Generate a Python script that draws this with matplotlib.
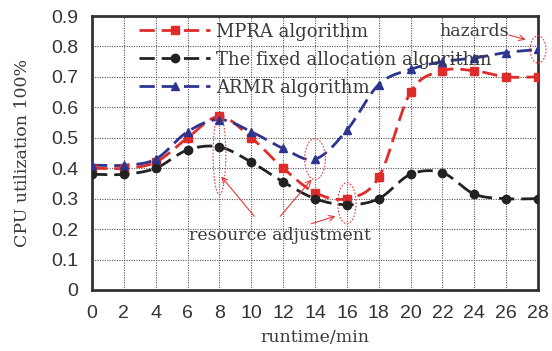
import numpy as np
import matplotlib
matplotlib.use("Agg")
import matplotlib.pyplot as plt
from matplotlib.patches import Ellipse

runtime = [0, 2, 4, 6, 8, 10, 12, 14, 16, 18, 20, 22, 24, 26, 28]
mpra = [0.40, 0.40, 0.42, 0.50, 0.57, 0.50, 0.40, 0.32, 0.30, 0.37, 0.65, 0.72, 0.72, 0.70, 0.70]
fixed = [0.38, 0.38, 0.40, 0.46, 0.47, 0.42, 0.355, 0.30, 0.28, 0.30, 0.38, 0.385, 0.315, 0.30, 0.30]
armr = [0.41, 0.41, 0.43, 0.52, 0.56, 0.52, 0.465, 0.43, 0.525, 0.675, 0.725, 0.75, 0.762, 0.78, 0.79]
labels = ["MPRA algorithm", "The fixed allocation algorithm", "ARMR algorithm"]
yticks = [0, 0.1, 0.2, 0.3, 0.4, 0.5, 0.6, 0.7, 0.8, 0.9]
ytick_labels = ["0", "0.1", "0.2", "0.3", "0.4", "0.5", "0.6", "0.7", "0.8", "0.9"]


def smooth(x, y, n=20):
    x = np.asarray(x, float)
    y = np.asarray(y, float)
    px = np.concatenate([[2 * x[0] - x[1]], x, [2 * x[-1] - x[-2]]])
    py = np.concatenate([[2 * y[0] - y[1]], y, [2 * y[-1] - y[-2]]])
    xs, ys = [], []
    t = np.linspace(0, 1, n, endpoint=False)
    for i in range(1, len(px) - 2):
        for arr, out in ((px, xs), (py, ys)):
            p0, p1, p2, p3 = arr[i - 1], arr[i], arr[i + 1], arr[i + 2]
            v = 0.5 * ((2 * p1) + (-p0 + p2) * t + (2 * p0 - 5 * p1 + 4 * p2 - p3) * t ** 2
                       + (-p0 + 3 * p1 - 3 * p2 + p3) * t ** 3)
            out.extend(v)
    xs.append(x[-1])
    ys.append(y[-1])
    return np.array(xs), np.array(ys)


serif = "DejaVu Serif"
txtcol = "#3a3a3a"
fig = plt.figure(figsize=(5.52, 3.51), dpi=100)
ax = fig.add_axes([0.1667, 0.1738, 0.808, 0.7806])

red = "#e02b2b"
black = "#222222"
blue = "#2c3590"
series = [(mpra, red, "s"), (fixed, black, "o"), (armr, blue, "^")]
for (vals, col, mk), lab in zip(series, labels):
    sx, sy = smooth(runtime, vals)
    ax.plot(sx, sy, color=col, lw=2.0, dashes=(5.5, 2.5), zorder=3)
    ax.plot(runtime, vals, ls="none", marker=mk, color=col, ms=6, zorder=4)
    ax.plot([], [], color=col, lw=2.0, dashes=(5.5, 2.5), marker=mk, ms=6, label=lab)

ax.set_xlim(0, 28)
ax.set_ylim(0, 0.9)
ax.set_xticks(runtime)
ax.set_yticks(yticks)
ax.set_yticklabels(ytick_labels)
ax.tick_params(length=0, labelsize=14, colors="#333333")
ax.tick_params(axis="x", pad=11)
ax.tick_params(axis="y", pad=10)
for lab in ax.get_xticklabels() + ax.get_yticklabels():
    lab.set_family("Liberation Sans")
ax.grid(True, color="#555555", ls=(0, (1, 1.2)), lw=0.8)
ax.set_axisbelow(True)
for s in ax.spines.values():
    s.set_linewidth(2)
    s.set_color("#333333")

ax.set_xlabel("runtime/min", family=serif, fontsize=12.5, color=txtcol, labelpad=5)
ax.set_ylabel("CPU utilization 100%", family=serif, fontsize=12.5, color=txtcol, labelpad=14)

leg = ax.legend(loc="upper left", bbox_to_anchor=(0.07, 1.035), frameon=False,
                handlelength=3.9, numpoints=1, labelspacing=0.55, handletextpad=0.35,
                prop={"family": serif, "size": 13})
for t in leg.get_texts():
    t.set_color(txtcol)

ann_col = "#e03a3a"
for (cx, cy, w, h) in [(8, 0.445, 0.8, 0.265), (14, 0.43, 1.3, 0.135), (16, 0.285, 1.15, 0.135), (28, 0.79, 1.0, 0.09)]:
    ax.add_patch(Ellipse((cx, cy), w, h, fill=False, ec=ann_col, lw=0.8, ls=(0, (1.5, 1.5)), zorder=5, clip_on=False))

ax.text(6.1, 0.165, "resource adjustment", family=serif, fontsize=12.5, color=txtcol, zorder=6)
ax.text(21.8, 0.835, "hazards", family=serif, fontsize=12.5, color=txtcol, zorder=6)

arrow = dict(arrowstyle="->", color=ann_col, lw=0.8)
ax.annotate("", xy=(8.0, 0.38), xytext=(10.3, 0.235), arrowprops=arrow)
ax.annotate("", xy=(13.9, 0.37), xytext=(11.7, 0.235), arrowprops=arrow)
ax.annotate("", xy=(15.45, 0.245), xytext=(13.6, 0.215), arrowprops=arrow)
ax.annotate("", xy=(27.4, 0.82), xytext=(26.0, 0.84), arrowprops=arrow)

fig.savefig("out.png", dpi=100)
